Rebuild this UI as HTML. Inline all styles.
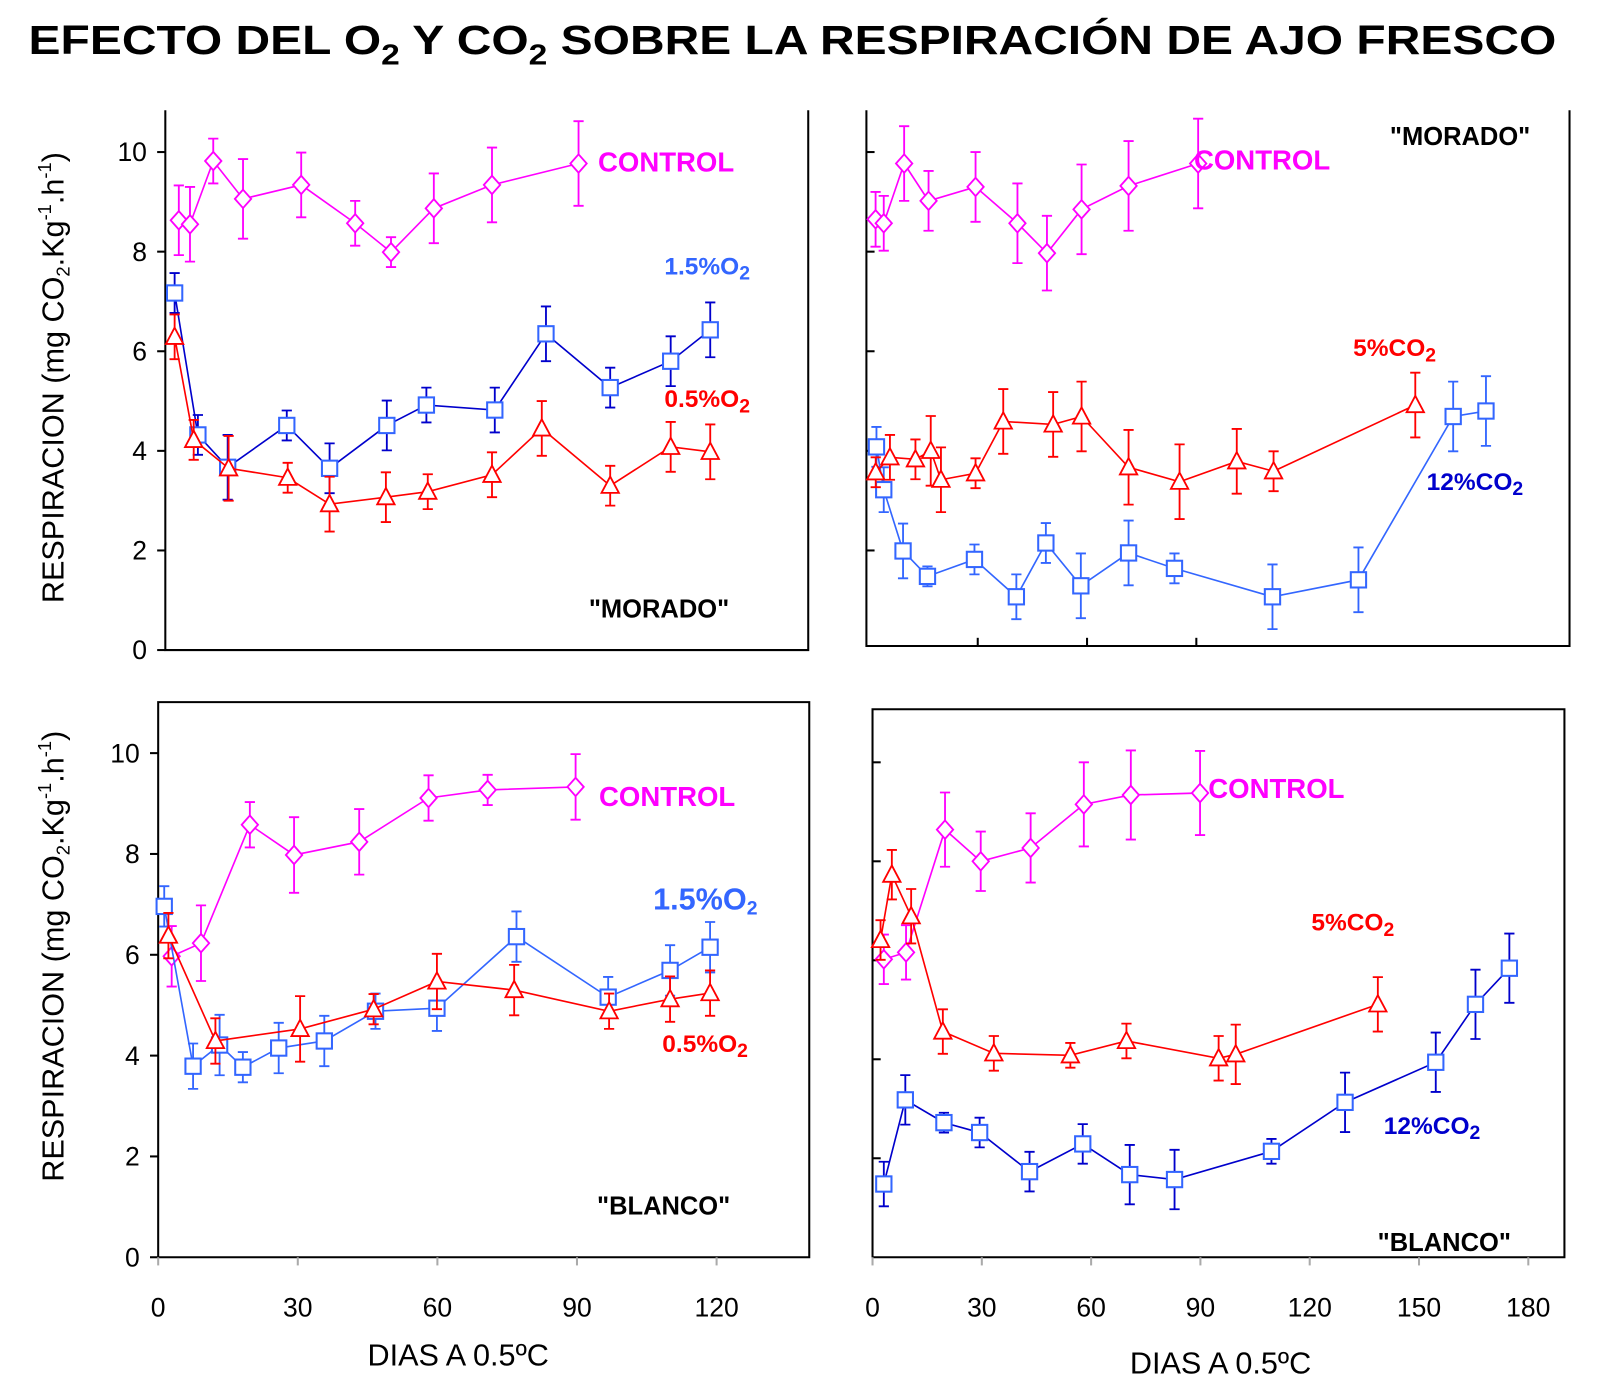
<!DOCTYPE html>
<html><head><meta charset="utf-8">
<style>
body{margin:0;background:#fff;}
svg{display:block;font-family:"Liberation Sans",Arial,sans-serif;}
</style></head>
<body>
<svg id="chart" width="1600" height="1378" viewBox="0 0 1600 1378" xmlns="http://www.w3.org/2000/svg">
<g transform="scale(1.0205)">
<text x="28" y="53" font-size="40" font-weight="bold" textLength="1497" lengthAdjust="spacingAndGlyphs">EFECTO DEL O<tspan font-size="28" dy="10">2</tspan><tspan dy="-10"> Y CO</tspan><tspan font-size="28" dy="10">2</tspan><tspan dy="-10"> SOBRE LA RESPIRACIÓN DE AJO FRESCO</tspan></text>
<g id="plots"></g>
</g>
</svg>
<script>
// ---- data: top-left (MORADO, O2) ----
const tlCtrlX=[2.9,5.3,10.3,16.7,29.2,40.8,48.5,57.7,70.2,88.8];
const tlCtrlY=[8.63,8.55,9.82,9.06,9.34,8.57,7.99,8.87,9.34,9.77];
const tlCtrlE=[0.7,0.75,0.45,0.8,0.65,0.45,0.3,0.7,0.75,0.85];
const tlO15X=[2,7,13.4,26.1,35.3,47.6,56.1,70.8,81.8,95.6,108.6,117.1];
const tlO15Y=[7.17,4.32,3.67,4.51,3.65,4.51,4.92,4.82,6.35,5.27,5.8,6.43];
const tlO15E=[0.4,0.4,0.65,0.3,0.5,0.5,0.35,0.45,0.55,0.4,0.5,0.55];
const tlO05X=[2,6.1,13.6,26.3,35.3,47.4,56.4,70.2,80.9,95.6,108.6,117.1];
const tlO05Y=[6.29,4.22,3.65,3.46,2.93,3.07,3.18,3.52,4.45,3.30,4.08,3.98];
const tlO05E=[0.45,0.4,0.65,0.3,0.55,0.5,0.35,0.45,0.55,0.4,0.5,0.55];
// ---- data: bottom-left (BLANCO, O2) ----
const blCtrlX=[2.9,9.2,19.7,29.2,43.2,58.1,70.8,89.7];
const blCtrlY=[5.97,6.23,8.58,7.98,8.24,9.11,9.27,9.33];
const blCtrlE=[0.6,0.75,0.45,0.75,0.65,0.45,0.3,0.65];
const blO15X=[1.3,7.5,13.2,18.2,25.9,35.7,46.7,59.9,77,96.7,110,118.6];
const blO15Y=[6.96,3.79,4.21,3.77,4.15,4.29,4.88,4.94,6.36,5.16,5.69,6.15];
const blO15E=[0.4,0.45,0.6,0.3,0.5,0.5,0.35,0.45,0.5,0.4,0.5,0.5];
const blO05X=[2.2,12.3,30.5,46.3,59.9,76.5,96.9,110,118.6];
const blO05Y=[6.38,4.29,4.53,4.92,5.47,5.30,4.88,5.12,5.24];
const blO05E=[0.45,0.45,0.65,0.3,0.55,0.5,0.35,0.45,0.45];
// ---- data: top-right (MORADO, CO2) ----
const trCtrlX=[1.96,4.2,9.8,16.5,29.4,40.9,49,58.5,71.4,90.5];
const trCtrlY=[8.65,8.57,9.77,9.02,9.3,8.57,7.97,8.85,9.32,9.77];
const trCtrlE=[0.55,0.55,0.75,0.6,0.7,0.8,0.75,0.9,0.9,0.9];
const trC12X=[2.2,4.2,9.5,16.2,29.1,40.6,48.7,58.3,71.4,84,110.9,134.5,160.5,169.5];
const trC12Y=[4.08,3.22,1.99,1.48,1.82,1.07,2.15,1.29,1.95,1.64,1.07,1.41,4.69,4.8];
const trC12E=[0.4,0.45,0.55,0.2,0.3,0.45,0.4,0.65,0.65,0.3,0.65,0.65,0.7,0.7];
const trC5X=[2,5.9,12.9,17.1,19.9,29.4,37,50.7,58.5,71.4,85.4,101.1,111.2,150.1];
const trC5Y=[3.57,3.87,3.83,4.0,3.42,3.55,4.59,4.53,4.69,3.67,3.38,3.79,3.59,4.92];
const trC5E=[0.3,0.45,0.4,0.7,0.65,0.3,0.65,0.65,0.7,0.75,0.75,0.65,0.4,0.65];
// ---- data: bottom-right (BLANCO, CO2) ----
const brCtrlX=[3.1,9.2,19.9,29.7,43.4,58,70.9,89.9];
const brCtrlY=[6.02,6.16,8.64,8.0,8.27,9.15,9.34,9.38];
const brCtrlE=[0.5,0.55,0.75,0.6,0.7,0.85,0.9,0.85];
const brC5X=[2.2,5.3,10.6,19.3,33.3,54.3,69.7,95,99.7,138.7];
const brC5Y=[6.41,7.73,6.89,4.56,4.12,4.08,4.37,4.02,4.10,5.11];
const brC5E=[0.4,0.5,0.55,0.45,0.35,0.25,0.35,0.45,0.6,0.55];
const brC12X=[3.1,9,19.6,29.4,43.1,57.7,70.6,82.9,109.5,129.7,154.6,165.5,174.8];
const brC12Y=[1.48,3.18,2.72,2.52,1.73,2.29,1.67,1.57,2.14,3.13,3.94,5.11,5.84];
const brC12E=[0.45,0.5,0.2,0.3,0.4,0.4,0.6,0.6,0.25,0.6,0.6,0.7,0.7];
const yTicks=[0,2,4,6,8,10];
const xTicksL=[0,30,60,90,120];
const xTicksR=[0,30,60,90,120,150,180];

const NS="http://www.w3.org/2000/svg";
const root=document.getElementById('plots');
function el(tag,attrs,parent,text){
  const e=document.createElementNS(NS,tag);
  for(const k in attrs)e.setAttribute(k,attrs[k]);
  if(text!==undefined)e.textContent=text;
  (parent||root).appendChild(e);return e;
}
const MAG='#ff00ff',RED='#ff0000',BLU='#3366ff',DBL='#0000cc';

function panel(p){
  const g=el('g',{});
  
  
  const sx=v=>p.x0+v*p.kx, sy=v=>p.y0-v*p.ky;
  const fr=el('path',{d:p.frame,fill:'none',stroke:'#000','stroke-width':2},g);
  
  
  yTicks.forEach(t=>{
    if(t===0 && !p.showLabels) return;
    const y=sy(t);
    const tk=el('line',{x1:p.left,x2:p.left+p.tickDir*8,y1:y,y2:y,stroke:'#000','stroke-width':2},g);
    
    
    if(p.showLabels){
      const lb=el('text',{x:p.left-18,y:y+9,'font-size':26,'text-anchor':'end'},g,String(t));
      
      
    }
  });
  p.xt.forEach(t=>{
    const x=sx(t);
    const tk=el('line',{x1:x,x2:x,y1:p.bottom,y2:p.bottom+p.xTickDir*8,stroke:p.xLabels?'#aaa':'#000','stroke-width':2},g);
    
    
    if(p.xLabels){
      const lb=el('text',{x:x,y:p.bottom+58,'font-size':26,'text-anchor':'middle'},g,String(t));
      
      
    }
  });
  p.series.forEach(s=>{
    const sg=el('g',{},g);
    
    
    const pts=s.x.map((v,i)=>sx(v)+','+sy(s.y[i])).join(' ');
    const ln=el('polyline',{points:pts,fill:'none',stroke:s.line,'stroke-width':1.6},sg);
    
    
    s.x.forEach((v,i)=>{
      const cx=sx(v),cy=sy(s.y[i]),e=s.e[i]*p.ky;
      const eb=el('path',{d:`M${cx},${cy-e}V${cy+e}M${cx-5},${cy-e}H${cx+5}M${cx-5},${cy+e}H${cx+5}`,stroke:s.line,'stroke-width':1.8,fill:'none'},sg);
      
      
      let m;
      if(s.mk==='sq') m=el('rect',{x:cx-7.5,y:cy-7.5,width:15,height:15,fill:'#fff',stroke:s.col,'stroke-width':2},sg);
      else if(s.mk==='di') m=el('path',{d:`M${cx},${cy-9}L${cx+8},${cy}L${cx},${cy+9}L${cx-8},${cy}Z`,fill:'#fff',stroke:s.col,'stroke-width':1.8},sg);
      else m=el('path',{d:`M${cx},${cy-9}L${cx+8.5},${cy+7}L${cx-8.5},${cy+7}Z`,fill:'#fff',stroke:s.col,'stroke-width':1.8},sg);
      
      
    });
  });
  p.labels.forEach(l=>{
    const t=el('text',{x:l.x,y:l.y,'font-size':l.fs||27,'font-weight':'bold',fill:l.c,'text-anchor':l.a||'start'},g);
    t.innerHTML=l.t;
    
    
  });
  return g;
}
const sub='<tspan font-size="19" dy="5">2</tspan>';
panel({name:'panel-morado-oxygen',x0:162,kx:4.56,y0:637,ky:48.8,left:162,bottom:637,tickDir:-1,xTickDir:-1,showLabels:true,xLabels:false,xt:[],
  frame:'M162,108V637H792V108',
  series:[
   {name:'series-control',x:tlCtrlX,y:tlCtrlY,e:tlCtrlE,line:MAG,col:MAG,mk:'di'},
   {name:'series-1.5-o2',x:tlO15X,y:tlO15Y,e:tlO15E,line:DBL,col:BLU,mk:'sq'},
   {name:'series-0.5-o2',x:tlO05X,y:tlO05Y,e:tlO05E,line:RED,col:RED,mk:'tr'}],
  labels:[{t:'CONTROL',x:586,y:168,c:MAG,n:'label-control'},
   {t:'1.5%O'+sub,x:651,y:269,c:BLU,n:'label-1.5-o2',fs:24},
   {t:'0.5%O'+sub,x:651,y:399,c:RED,n:'label-0.5-o2',fs:24},
   {t:'"MORADO"',x:577,y:605,c:'#000',n:'label-morado',fs:25}]});
panel({name:'panel-blanco-oxygen',x0:155,kx:4.56,y0:1232,ky:49.4,left:155,bottom:1232,tickDir:-1,xTickDir:1,showLabels:true,xLabels:true,xt:xTicksL,
  frame:'M155,688V1232H793V688Z',
  series:[
   {name:'series-control',x:blCtrlX,y:blCtrlY,e:blCtrlE,line:MAG,col:MAG,mk:'di'},
   {name:'series-1.5-o2',x:blO15X,y:blO15Y,e:blO15E,line:BLU,col:BLU,mk:'sq'},
   {name:'series-0.5-o2',x:blO05X,y:blO05Y,e:blO05E,line:RED,col:RED,mk:'tr'}],
  labels:[{t:'CONTROL',x:587,y:790,c:MAG,n:'label-control'},
   {t:'1.5%O'+sub,x:640,y:891,c:BLU,n:'label-1.5-o2',fs:30},
   {t:'0.5%O'+sub,x:649,y:1031,c:RED,n:'label-0.5-o2',fs:24},
   {t:'"BLANCO"',x:585,y:1190,c:'#000',n:'label-blanco',fs:25}]});
panel({name:'panel-morado-co2',x0:851,kx:3.57,y0:637,ky:48.8,left:849,bottom:633,tickDir:1,xTickDir:-1,showLabels:false,xLabels:false,xt:[30,60,90],
  frame:'M849,108V633H1538V108',
  series:[
   {name:'series-control',x:trCtrlX,y:trCtrlY,e:trCtrlE,line:MAG,col:MAG,mk:'di'},
   {name:'series-12-co2',x:trC12X,y:trC12Y,e:trC12E,line:BLU,col:BLU,mk:'sq'},
   {name:'series-5-co2',x:trC5X,y:trC5Y,e:trC5E,line:RED,col:RED,mk:'tr'}],
  labels:[{t:'CONTROL',x:1170,y:166,c:MAG,n:'label-control'},
   {t:'"MORADO"',x:1362,y:142,c:'#000',n:'label-morado',fs:25},
   {t:'5%CO'+sub,x:1326,y:349,c:RED,n:'label-5-co2',fs:24},
   {t:'12%CO'+sub,x:1398,y:480,c:DBL,n:'label-12-co2',fs:24}]});
panel({name:'panel-blanco-co2',x0:855,kx:3.57,y0:1232,ky:48.5,left:855,bottom:1232,tickDir:1,xTickDir:1,showLabels:false,xLabels:true,xt:xTicksR,
  frame:'M855,695V1232H1533V695Z',
  series:[
   {name:'series-control',x:brCtrlX,y:brCtrlY,e:brCtrlE,line:MAG,col:MAG,mk:'di'},
   {name:'series-5-co2',x:brC5X,y:brC5Y,e:brC5E,line:RED,col:RED,mk:'tr'},
   {name:'series-12-co2',x:brC12X,y:brC12Y,e:brC12E,line:DBL,col:BLU,mk:'sq'}],
  labels:[{t:'CONTROL',x:1184,y:782,c:MAG,n:'label-control'},
   {t:'5%CO'+sub,x:1285,y:912,c:RED,n:'label-5-co2',fs:24},
   {t:'12%CO'+sub,x:1356,y:1111,c:DBL,n:'label-12-co2',fs:24},
   {t:'"BLANCO"',x:1350,y:1226,c:'#000',n:'label-blanco',fs:25}]});
const sup=t=>'<tspan font-size="18" dy="-12">'+t+'</tspan><tspan dy="12">';
function yTitle(cy,name){
  const t=el('text',{x:0,y:0,'font-size':30,'text-anchor':'middle',transform:`translate(62,${cy}) rotate(-90)`});
  t.innerHTML='RESPIRACION (mg CO<tspan font-size="18" dy="6">2</tspan><tspan dy="-6">.Kg</tspan>'+sup('-1')+'.h</tspan>'+sup('-1')+')</tspan>';
  
  
}
yTitle(370,'y-axis-title-top');
yTitle(937,'y-axis-title-bottom');
const xt1=el('text',{x:449,y:1338,'font-size':30,'text-anchor':'middle'},root,'DIAS A 0.5ºC');


const xt2=el('text',{x:1196,y:1346,'font-size':30,'text-anchor':'middle'},root,'DIAS A 0.5ºC');


</script>
</body></html>
